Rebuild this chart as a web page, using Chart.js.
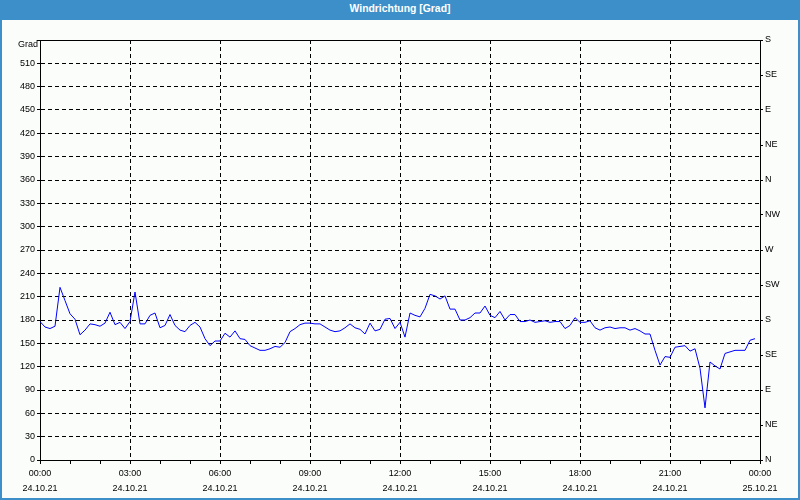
<!DOCTYPE html>
<html>
<head>
<meta charset="utf-8">
<script src="https://cdn.jsdelivr.net/npm/chart.js@4/dist/chart.umd.min.js"></script>
<style>
  html, body { margin: 0; padding: 0; background: #fbfdfb; }
  #frame { position: relative; width: 800px; height: 500px; box-sizing: border-box;
           border-left: 2px solid #3c8fc8; border-right: 2px solid #3c8fc8; border-bottom: 2px solid #3c8fc8;
           background: #fbfdfb; overflow: hidden; }
  #titlebar { position: absolute; left: -2px; top: 0; width: 800px; height: 20px; background: #3c8fc8;
              color: #fff; font: bold 10.4px "Liberation Sans", Arial, sans-serif; text-align: center; line-height: 18px; }
  #c { position: absolute; left: 0; top: 20px; }
</style>
</head>
<body>
<div id="frame">
  <div id="titlebar">Windrichtung [Grad]</div>
  <canvas id="c" width="796" height="478"></canvas>
</div>
<script>
// ---- data (10-minute values, 24.10.21 00:00 .. 23:50) ----
const chartTitle = 'Windrichtung [Grad]';
const yTitle = 'Grad';
const stepMinutes = 10;
const values = [
  178, 171, 169, 172, 222, 205, 188, 181, 161, 167,
  175, 174, 172, 176, 190, 174, 177, 169, 178, 216,
  175, 175, 186, 189, 170, 173, 187, 173, 167, 165,
  173, 177, 171, 156, 147, 153, 153, 163, 158, 166,
  156, 155, 147, 144, 141, 141, 143, 146, 145, 151,
  165, 169, 174, 176, 176, 175, 175, 171, 167, 165,
  166, 170, 175, 170, 168, 162, 176, 166, 168, 181,
  182, 169, 177, 158, 189, 186, 184, 195, 213, 211,
  207, 211, 194, 194, 180, 180, 183, 189, 189, 198,
  186, 183, 191, 180, 187, 187, 178, 178, 180, 177,
  178, 179, 177, 178, 178, 169, 173, 183, 177, 177,
  179, 170, 167, 170, 171, 169, 170, 170, 167, 169,
  166, 162, 162, 141, 122, 133, 132, 145, 146, 147,
  140, 143, 118, 67, 126, 121, 117, 137, 139, 141,
  141, 141, 154, 156
];
const tickTimes = ['00:00', '03:00', '06:00', '09:00', '12:00', '15:00', '18:00', '21:00', '00:00'];
const tickDates = ['24.10.21', '24.10.21', '24.10.21', '24.10.21', '24.10.21', '24.10.21', '24.10.21', '24.10.21', '25.10.21'];
const compass = ['N', 'NE', 'E', 'SE', 'S', 'SW', 'W', 'NW', 'N', 'NE', 'E', 'SE', 'S'];

const points = values.map((v, i) => ({ x: i * stepMinutes / 60, y: v }));

const FONT = { family: '"Liberation Sans", Arial, sans-serif', size: 9 };
const DASH = [4, 3];

const extras = {
  id: 'extras',
  afterDraw(chart) {
    const { ctx, chartArea: { left, top, right } } = chart;
    ctx.save();
    ctx.strokeStyle = '#000';
    ctx.lineWidth = 1;
    ctx.beginPath();
    ctx.moveTo(left, top + 0.5);
    ctx.lineTo(right, top + 0.5);
    ctx.stroke();
    ctx.font = '9px "Liberation Sans", Arial, sans-serif';
    ctx.fillStyle = '#000';
    ctx.textAlign = 'right';
    ctx.textBaseline = 'middle';
    ctx.fillText(yTitle, left - 2, top + 5);
    ctx.restore();
  }
};

new Chart(document.getElementById('c'), {
  type: 'line',
  data: {
    datasets: [{
      label: chartTitle,
      data: points,
      borderColor: '#0000ff',
      borderWidth: 1,
      pointRadius: 0,
      tension: 0,
      fill: false,
      yAxisID: 'y'
    }]
  },
  options: {
    responsive: false,
    animation: false,
    devicePixelRatio: 1,
    layout: { padding: { top: 20, left: 0, right: 0, bottom: 0 } },
    plugins: { legend: { display: false }, title: { display: false }, tooltip: { enabled: false } },
    scales: {
      x: {
        type: 'linear', min: 0, max: 24,
        afterFit: s => { s.height = 38; },
        ticks: {
          stepSize: 1, autoSkip: false, maxRotation: 0, padding: 2,
          color: '#000', font: { ...FONT, lineHeight: 1.65 },
          callback: v => (v % 3 === 0) ? [tickTimes[v / 3], tickDates[v / 3]] : ''
        },
        grid: {
          color: c => (c.tick && c.tick.value % 3 === 0) ? '#000' : 'rgba(0,0,0,0)',
          tickColor: '#000', tickLength: 4, lineWidth: 1
        },
        border: { display: true, color: '#000', width: 1, dash: DASH }
      },
      y: {
        position: 'left', min: 0, max: 540,
        afterFit: s => { s.width = 38; },
        ticks: {
          stepSize: 30, padding: 2, color: '#000', font: FONT,
          callback: v => v === 540 ? '' : v
        },
        grid: { color: '#000', tickColor: '#000', tickLength: 3, lineWidth: 1 },
        border: { display: true, color: '#000', width: 1, dash: DASH }
      },
      y2: {
        position: 'right', min: 0, max: 540,
        afterFit: s => { s.width = 38; },
        ticks: {
          stepSize: 45, padding: 2, color: '#000', font: FONT,
          callback: v => compass[Math.round(v / 45)]
        },
        grid: { drawOnChartArea: false, tickColor: '#000', tickLength: 3 },
        border: { display: true, color: '#000', width: 1 }
      }
    }
  },
  plugins: [extras]
});
</script>
</body>
</html>
